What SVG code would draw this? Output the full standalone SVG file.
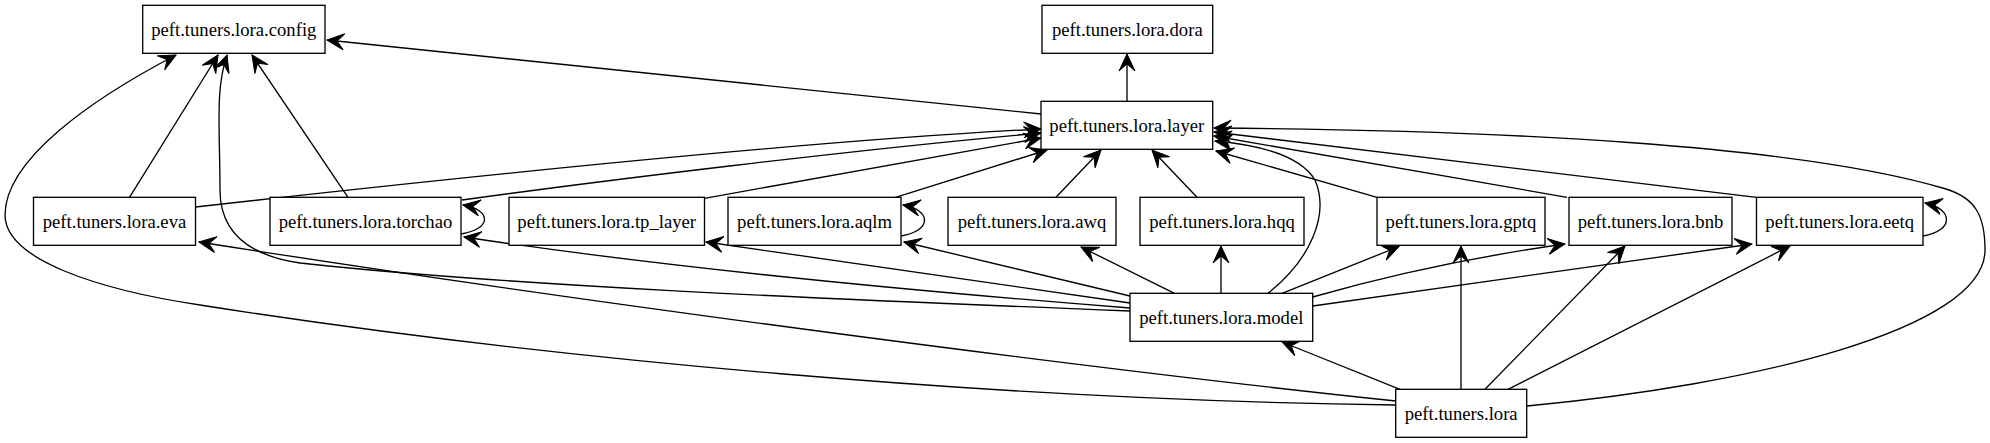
<svg xmlns="http://www.w3.org/2000/svg" width="1990" height="443" viewBox="0 0 1990 443">
<style>
.n rect{fill:#fff;stroke:#000;stroke-width:1.33}
.n text{font-family:"Liberation Serif","Times New Roman",serif;font-size:18.67px;text-anchor:middle;fill:#000}
#edges path{fill:none;stroke:#000;stroke-width:1.33;marker-end:url(#vee)}
</style>
<defs>
<marker id="vee" markerUnits="userSpaceOnUse" orient="auto" refX="0" refY="0" markerWidth="20" markerHeight="20" overflow="visible">
<path d="M0,0 L-17,-8 L-10,0 L-17,8 Z" fill="#000" stroke="#000" stroke-width="1"/>
</marker>
</defs>
<rect width="1990" height="443" fill="#fff"/>
<g id="edges">
<path d="M1041,114 L327,40"/>
<path d="M1127,101.3 L1127,54"/>
<path d="M129.5,197.3 L218,55"/>
<path d="M348,197.3 L252,55"/>
<path d="M1130,311 C800,298 500,285 300,263 C245,255 220,230 220,190 C220,130 215,90 227,55"/>
<path d="M1396,405 C1000,400 550,360 200,305 C100,290 5,260 5,215 C5,160 90,100 176,55"/>
<path d="M195.5,207 C400,184 800,141 1041,129"/>
<path d="M462,200 C600,181 850,150 1041,133"/>
<path d="M704.5,198.3 L1041,138"/>
<path d="M895.5,197.3 L1047,150"/>
<path d="M1056,197.3 L1101,150"/>
<path d="M1197,197.3 L1152,150"/>
<path d="M1377,197.3 L1216,151"/>
<path d="M1567,197.3 L1214,136"/>
<path d="M1756.5,197.3 L1214,132"/>
<path d="M1268,293.3 C1310,260 1330,215 1315,180 C1300,155 1260,145 1215,141"/>
<path d="M1527,406 C1750,385 1985,330 1985,250 C1985,215 1975,198 1946,189 C1800,145 1500,130 1214,128"/>
<path d="M461,234 C492,229 492,210 463,205"/>
<path d="M901,236 C932,231 932,210 903,205"/>
<path d="M1923,236 C1954,231 1954,209 1925,203"/>
<path d="M1130,308 C900,290 650,265 464,237"/>
<path d="M1130,303 L706,242"/>
<path d="M1130,296 L904,242"/>
<path d="M1174.5,293.3 L1081,247"/>
<path d="M1221,293.3 L1221,246"/>
<path d="M1282,293.3 L1399,246.5"/>
<path d="M1312.7,297 C1400,272 1480,256 1565,244"/>
<path d="M1312.7,306 C1450,286 1600,266 1752,244"/>
<path d="M1400,389.3 L1282,342"/>
<path d="M1461,389.3 L1461,246"/>
<path d="M1485,389.3 L1625,246"/>
<path d="M1508,389.3 L1790,246"/>
<path d="M1396,401 C1100,370 600,305 199,242"/>
</g>
<g id="config" class="n"><rect x="142.7" y="5.3" width="182.3" height="48"/><text x="233.8" y="35.5">peft.tuners.lora.config</text></g>
<g id="dora" class="n"><rect x="1042" y="5.3" width="170.7" height="48"/><text x="1127.3" y="35.5">peft.tuners.lora.dora</text></g>
<g id="layer" class="n"><rect x="1041" y="101.3" width="171.7" height="48"/><text x="1126.8" y="131.5">peft.tuners.lora.layer</text></g>
<g id="eva" class="n"><rect x="33.5" y="197.3" width="162" height="48"/><text x="114.5" y="227.5">peft.tuners.lora.eva</text></g>
<g id="torchao" class="n"><rect x="270" y="197.3" width="191" height="48"/><text x="365.5" y="227.5">peft.tuners.lora.torchao</text></g>
<g id="tp_layer" class="n"><rect x="509" y="197.3" width="195.5" height="48"/><text x="606.7" y="227.5">peft.tuners.lora.tp_layer</text></g>
<g id="aqlm" class="n"><rect x="728" y="197.3" width="173" height="48"/><text x="814.5" y="227.5">peft.tuners.lora.aqlm</text></g>
<g id="awq" class="n"><rect x="948" y="197.3" width="168" height="48"/><text x="1032" y="227.5">peft.tuners.lora.awq</text></g>
<g id="hqq" class="n"><rect x="1140" y="197.3" width="164" height="48"/><text x="1222" y="227.5">peft.tuners.lora.hqq</text></g>
<g id="gptq" class="n"><rect x="1377" y="197.3" width="168" height="48"/><text x="1461" y="227.5">peft.tuners.lora.gptq</text></g>
<g id="bnb" class="n"><rect x="1569" y="197.3" width="163" height="48"/><text x="1650.5" y="227.5">peft.tuners.lora.bnb</text></g>
<g id="eetq" class="n"><rect x="1756.5" y="197.3" width="166.5" height="48"/><text x="1839.7" y="227.5">peft.tuners.lora.eetq</text></g>
<g id="model" class="n"><rect x="1130" y="293.3" width="182.7" height="48"/><text x="1221.3" y="323.5">peft.tuners.lora.model</text></g>
<g id="lora" class="n"><rect x="1395.7" y="389.3" width="131" height="48"/><text x="1461.2" y="419.5">peft.tuners.lora</text></g>
</svg>
